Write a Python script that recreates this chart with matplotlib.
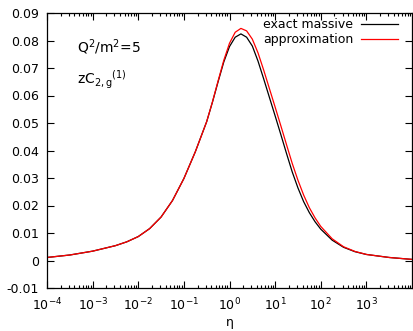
import matplotlib
matplotlib.use("Agg")
import matplotlib.pyplot as plt
import numpy as np

# log10(eta) sample points
log_eta = [-4.0, -3.5, -3.0, -2.5, -2.25, -2.0, -1.75, -1.5, -1.25, -1.0,
           -0.75, -0.5, -0.375, -0.25, -0.125, 0.0, 0.125, 0.25, 0.375,
           0.5, 0.625, 0.75, 0.875, 1.0, 1.125, 1.25, 1.375, 1.5, 1.625,
           1.75, 1.875, 2.0, 2.25, 2.5, 2.75, 3.0, 3.5, 4.0]

exact = [0.0011, 0.0020, 0.0034, 0.0054, 0.0068, 0.0087, 0.0116, 0.0158,
         0.0218, 0.0298, 0.0395, 0.0505, 0.0575, 0.0650, 0.0722, 0.0778,
         0.0812, 0.0824, 0.0812, 0.0780, 0.0725, 0.0660, 0.0593, 0.0526,
         0.0458, 0.0389, 0.0322, 0.0264, 0.0214, 0.0174, 0.0141, 0.0114,
         0.0074, 0.0048, 0.0032, 0.0022, 0.0011, 0.0004]

approx = [0.0011, 0.0020, 0.0034, 0.0054, 0.0068, 0.0087, 0.0116, 0.0158,
          0.0218, 0.0298, 0.0395, 0.0505, 0.0576, 0.0653, 0.0728, 0.0790,
          0.0830, 0.0844, 0.0835, 0.0805, 0.0755, 0.0692, 0.0625, 0.0558,
          0.0490, 0.0421, 0.0353, 0.0292, 0.0238, 0.0192, 0.0155, 0.0124,
          0.0079, 0.0050, 0.0033, 0.0022, 0.0011, 0.0004]

xticks = [1e-4, 1e-3, 1e-2, 1e-1, 1e0, 1e1, 1e2, 1e3]
xticklabels = [r"$10^{-4}$", r"$10^{-3}$", r"$10^{-2}$", r"$10^{-1}$",
               r"$10^{0}$", r"$10^{1}$", r"$10^{2}$", r"$10^{3}$"]
yticks = [-0.01, 0, 0.01, 0.02, 0.03, 0.04, 0.05, 0.06, 0.07, 0.08, 0.09]
yticklabels = ["-0.01", "0", "0.01", "0.02", "0.03", "0.04", "0.05",
               "0.06", "0.07", "0.08", "0.09"]

plt.rcParams["mathtext.default"] = "regular"
plt.rcParams["font.size"] = 9

eta = 10 ** np.array(log_eta)

fig = plt.figure(figsize=(4.13, 3.31), dpi=100)
ax = fig.add_axes([47 / 413, 1 - 288 / 331, 365 / 413, 275 / 331])

ax.plot(eta, exact, color="black", lw=0.9, label="exact massive")
ax.plot(eta, approx, color="red", lw=0.9, label="approximation")

ax.set_xscale("log")
ax.set_xlim(1e-4, 1e4)
ax.set_ylim(-0.01, 0.09)
ax.set_xticks(xticks)
ax.set_xticklabels(xticklabels)
ax.set_yticks(yticks)
ax.set_yticklabels(yticklabels)
ax.tick_params(which="both", direction="in", top=True, right=True, width=0.8)
ax.tick_params(which="major", length=5, pad=6)
ax.tick_params(which="minor", length=2.5)
for s in ax.spines.values():
    s.set_linewidth(0.9)

ax.set_xlabel(r"$\eta$", labelpad=3)

ax.text(0.083, 0.855, r"$Q^2/m^2$=5", transform=ax.transAxes, fontsize=10)
ax.text(0.083, 0.74, r"$zC_{2,g}{}^{(1)}$", transform=ax.transAxes, fontsize=10)

ax.legend(loc="upper right", bbox_to_anchor=(0.976, 1.0), frameon=False,
          markerfirst=False, handlelength=3.0, borderaxespad=0.0,
          labelspacing=0.15, handletextpad=0.6, fontsize=9)

fig.savefig("out.png", dpi=100)
